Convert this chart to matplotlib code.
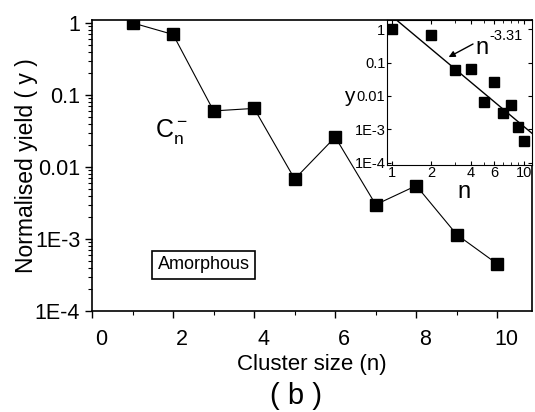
import numpy as np
import matplotlib.pyplot as plt
from matplotlib.ticker import FixedLocator, FixedFormatter, NullFormatter, LogLocator
from matplotlib.transforms import ScaledTranslation

plt.rcParams['font.family'] = ['Liberation Sans', 'DejaVu Sans']
plt.rcParams['mathtext.fontset'] = 'custom'
plt.rcParams['mathtext.rm'] = 'Liberation Sans'
plt.rcParams['mathtext.it'] = 'Liberation Sans'

# data
n = [1, 2, 3, 4, 5, 6, 7, 8, 9, 10]
yld = [1.0, 0.69, 0.06, 0.065, 0.0068, 0.026, 0.003, 0.0055, 0.00115, 0.00045]
fit_exp = -3.31
fit_amp = 2.5
y_ticks = [1, 0.1, 0.01, 1e-3, 1e-4]
y_ticklabels = ['1', '0.1', '0.01', '1E-3', '1E-4']
inset_xticks = [1, 2, 4, 6, 10]

fig = plt.figure(figsize=(5.35, 4.12), dpi=100)
ax = fig.add_axes([0.172, 0.245, 0.822, 0.706])

ax.plot(n, yld, '-', color='black', lw=0.8, marker='s', ms=8.5,
        mfc='black', mec='black')
ax.set_yscale('log')
ax.set_xlim(0, 10.85)
ax.set_ylim(1e-4, 1.09)
ax.yaxis.set_major_locator(FixedLocator(y_ticks))
ax.yaxis.set_major_formatter(FixedFormatter(y_ticklabels))
ax.yaxis.set_minor_locator(LogLocator(base=10, subs=np.arange(2, 10)))
ax.yaxis.set_minor_formatter(NullFormatter())
ax.set_xticks([0, 2, 4, 6, 8, 10])
ax.set_xticks([1, 3, 5, 7, 9], minor=True)
ax.tick_params(which='major', labelsize=15.5, length=5, width=1)
ax.tick_params(which='minor', length=3, width=0.8)
ax.tick_params(axis='x', pad=8)
# x labels sit a little right of their ticks in the original
shift = ScaledTranslation(9 / 100, 0, fig.dpi_scale_trans)
for lab in ax.get_xticklabels():
    lab.set_transform(lab.get_transform() + shift)
for s in ax.spines.values():
    s.set_linewidth(1.2)

ax.set_xlabel('Cluster size (n)', fontsize=16, labelpad=3)
ax.set_ylabel('Normalised yield ( y )', fontsize=16.5, labelpad=-2)
fig.text(0.553, 0.004, '( b )', fontsize=21, ha='center', va='bottom')

ax.text(1.56, 0.031, r'$\mathregular{C_n^-}$', fontsize=18, ha='left', va='center')
ax.text(2.75, 4.4e-4, 'Amorphous', fontsize=13, ha='center', va='center',
        bbox=dict(boxstyle='square,pad=0.3', fc='white', ec='black', lw=1.2))

# inset, log-log with power-law fit
ins = fig.add_axes([0.723, 0.600, 0.271, 0.351])
ins.plot(n, yld, 's', color='black', ms=7)
nf = np.array([0.9, 12.0])
ins.plot(nf, fit_amp * nf ** fit_exp, '-', color='black', lw=1)
ins.set_xscale('log')
ins.set_yscale('log')
ins.set_xlim(0.92, 11.5)
ins.set_ylim(8.7e-5, 1.86)
ins.xaxis.set_major_locator(FixedLocator(inset_xticks))
ins.xaxis.set_major_formatter(FixedFormatter([str(v) for v in inset_xticks]))
ins.xaxis.set_minor_locator(LogLocator(base=10, subs=np.arange(2, 10)))
ins.xaxis.set_minor_formatter(NullFormatter())
ins.yaxis.set_major_locator(FixedLocator(y_ticks))
ins.yaxis.set_major_formatter(FixedFormatter(y_ticklabels))
ins.yaxis.set_minor_locator(LogLocator(base=10, subs=np.arange(2, 10)))
ins.yaxis.set_minor_formatter(NullFormatter())
ins.tick_params(which='both', direction='in', top=True, right=True,
                labelsize=10.5, pad=1)
ins.tick_params(which='major', length=3)
ins.tick_params(which='minor', length=2)
ins.set_xlabel('n', fontsize=17, labelpad=-2)
ins.xaxis.set_label_coords(0.53, -0.11)
ins.set_ylabel('y', fontsize=15, rotation=0, ha='center', va='center')
ins.yaxis.set_label_coords(-0.26, 0.47)
ins.annotate('', xy=(2.7, 0.146), xytext=(4.13, 0.36),
             arrowprops=dict(arrowstyle='-|>', color='black', lw=1,
                             mutation_scale=9, shrinkA=0, shrinkB=0))
ins.text(4.3, 0.28, 'n', fontsize=17, ha='left', va='center')
ins.text(5.45, 0.62, '-3.31', fontsize=10.5, ha='left', va='center')

fig.savefig('out.png', dpi=100)
